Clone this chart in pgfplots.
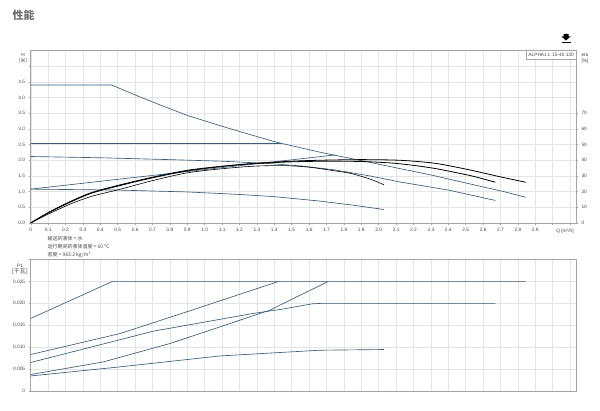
\documentclass[border=0pt]{standalone}
\usepackage{pgfplots}
\pgfplotsset{compat=1.18}
\usepackage{fontspec}
\setmainfont{Liberation Sans}
\newfontfamily\cjk{Noto Sans CJK SC}

\definecolor{curve}{RGB}{58,92,120}
\definecolor{gridc}{RGB}{228,228,228}
\definecolor{axisc}{RGB}{165,165,165}
\definecolor{titlec}{RGB}{110,110,110}
\definecolor{txt}{RGB}{70,70,70}

\pgfplotsset{
  base/.style={
    scale only axis, width=545.3pt, xmin=0, xmax=3.134,
    axis line style={axisc, line width=0.5pt},
    tick style={axisc, line width=0.4pt}, tick align=outside,
    major tick length=2pt,
    major grid style={gridc, line width=0.4pt},
    tick label style={font=\fontsize{4.8}{5}\selectfont, text=txt},
    /pgf/number format/assume math mode=true,
    scaled x ticks=false, scaled y ticks=false,
    xtick={0,0.1,0.2,0.3,0.4,0.5,0.6,0.7,0.8,0.9,1.0,1.1,1.2,1.3,1.4,1.5,
           1.6,1.7,1.8,1.9,2.0,2.1,2.2,2.3,2.4,2.5,2.6,2.7,2.8,2.9,3.0,3.1},
    xtick pos=bottom, ytick pos=left,
  },
  bl/.style={curve, line width=0.65pt},
  bk/.style={black, line width=0.8pt},
}

\begin{document}
\begin{tikzpicture}[x=1pt,y=1pt]
\path[use as bounding box] (0,0) rectangle (600,411);

% upper panel: head
\begin{axis}[base, at={(30.7pt,188pt)}, anchor=south west, height=172.5pt,
  grid=major, ymin=0, ymax=5.5,
  ytick={0,0.5,1,1.5,2,2.5,3,3.5,4,4.5,5},
  yticklabels={0.0,0.5,1.0,1.5,2.0,2.5,3.0,3.5,4.0,4.5,{}},
  xticklabels={0,0.1,0.2,0.3,0.4,0.5,0.6,0.7,0.8,0.9,1.0,1.1,1.2,1.3,1.4,1.5,
           1.6,1.7,1.8,1.9,2.0,2.1,2.2,2.3,2.4,2.5,2.6,2.7,2.8,2.9,{},{}}]
\addplot[bl] coordinates {(0,4.40) (0.465,4.40) (0.61,4.06) (0.75,3.75) (0.90,3.43)
  (1.05,3.17) (1.18,2.95) (1.41,2.58) (1.55,2.40) (1.66,2.26) (1.89,2.00)
  (2.10,1.76) (2.31,1.52) (2.45,1.34) (2.60,1.15) (2.72,1.00) (2.845,0.82)};
\addplot[bl] coordinates {(0,2.55) (1.44,2.55)};
\addplot[bl] coordinates {(0,2.12) (0.4,2.08) (0.8,2.02) (1.1,1.97) (1.36,1.90)
  (1.55,1.82) (1.74,1.70) (1.95,1.50) (2.12,1.31) (2.4,1.05) (2.67,0.72)};
\addplot[bl] coordinates {(0,1.08) (1.75,2.17)};
\addplot[bl] coordinates {(0,1.08) (0.5,1.05) (0.9,0.99) (1.2,0.91) (1.4,0.84)
  (1.66,0.70) (1.85,0.57) (2.03,0.43)};
\end{axis}

% upper panel: efficiency
\begin{axis}[base, at={(30.7pt,188pt)}, anchor=south west, height=172.5pt,
  axis x line=none, axis y line*=right, ytick pos=right,
  ymin=0, ymax=110, ytick={0,10,20,30,40,50,60,70}]
\addplot[bk, smooth] coordinates {(0,0) (0.1,6.6) (0.226,13.6) (0.35,19.4) (0.51,24.2)
  (0.7,29.2) (0.9,33.6) (1.1,36.2) (1.28,38) (1.5,39.4) (1.66,40) (1.9,40.4)
  (2.12,40) (2.3,38.4) (2.41,36.4) (2.55,33.2) (2.70,29.4) (2.845,26)};
\addplot[bk, smooth] coordinates {(0,0) (0.1,6.4) (0.226,13.2) (0.35,19) (0.51,23.8)
  (0.7,28.8) (0.9,33.2) (1.1,36) (1.28,37.8) (1.5,39) (1.7,39.4) (1.9,39.2)
  (2.1,38) (2.3,35.2) (2.45,32) (2.55,29.6) (2.67,26)};
\addplot[bk, line width=0.6pt, smooth] coordinates {(0,0) (0.1,5.6) (0.226,12) (0.35,17)
  (0.51,21.4) (0.7,27) (0.9,32) (1.1,34.6) (1.28,36.2) (1.45,36.6) (1.6,35.6)
  (1.75,33.2) (1.84,31.6) (1.95,28) (2.03,24.4)};
\end{axis}

% lower panel: power
\begin{axis}[base, at={(30.7pt,20pt)}, anchor=south west, height=131.5pt,
  grid=major, ymin=0, ymax=0.03,
  ytick={0,0.005,0.01,0.015,0.02,0.025,0.03},
  yticklabels={0,0.005,0.010,0.015,0.020,0.025,{}},
  xticklabels={}, xtick style={draw=none}]
\addplot[bl] coordinates {(0,0.01655) (0.47,0.0250) (2.845,0.0250)};
\addplot[bl] coordinates {(0,0.00832) (0.513,0.0131) (0.90,0.0181) (1.425,0.0250)};
\addplot[bl] coordinates {(0,0.0065) (0.705,0.01365) (1.28,0.0177) (1.45,0.0187)
  (1.62,0.0199) (1.68,0.0200) (2.67,0.0200)};
\addplot[bl] coordinates {(0,0.00375) (0.417,0.00663) (0.80,0.01083) (1.088,0.01463)
  (1.375,0.01845) (1.55,0.0219) (1.66,0.0240) (1.71,0.0250)};
\addplot[bl] coordinates {(0,0.00343) (0.513,0.0055) (1.088,0.0080) (1.66,0.0093)
  (2.03,0.00946)};
\end{axis}

% texts
\node[anchor=west, font=\cjk\bfseries\fontsize{11}{12}\selectfont, text=titlec]
  at (9,396) {性能};
\fill[black] (563.5,377) -- (568.5,377) -- (568.5,374.5) -- (570.5,374.5) -- (566,370.5)
  -- (561.5,374.5) -- (563.5,374.5) -- cycle;
\fill[black] (561.5,369) rectangle (570.5,368);
\node[draw=axisc, fill=white, anchor=north east, inner sep=2pt,
  font=\fontsize{4.8}{5}\selectfont, text=txt, minimum height=9.5pt] at (576,361)
  {ALPHA1 L 15-40 130};
\node[anchor=north, align=center, font=\fontsize{4.8}{6}\selectfont, text=txt]
  at (23,361) {H\\{\cjk [米]}};
\node[anchor=north west, align=left, font=\fontsize{4.8}{6}\selectfont, text=txt]
  at (578,361) {eta\\{[\%]}};
\node[anchor=north, font=\fontsize{4.8}{5}\selectfont, text=txt]
  at (565,185.5) {Q [m³/h]};
\node[anchor=north west, align=left, font=\cjk\fontsize{5}{7.8}\selectfont, text=txt]
  at (44,178) {输送的液体 = 水\\运行期间的液体温度 = 60 °C\\密度 = 983.2 kg/m³};
\node[anchor=north, align=center, font=\fontsize{4.8}{6}\selectfont, text=txt]
  at (20,150) {P1\\{\cjk\fontsize{6}{6}\selectfont [千瓦]}};
\end{tikzpicture}
\end{document}
